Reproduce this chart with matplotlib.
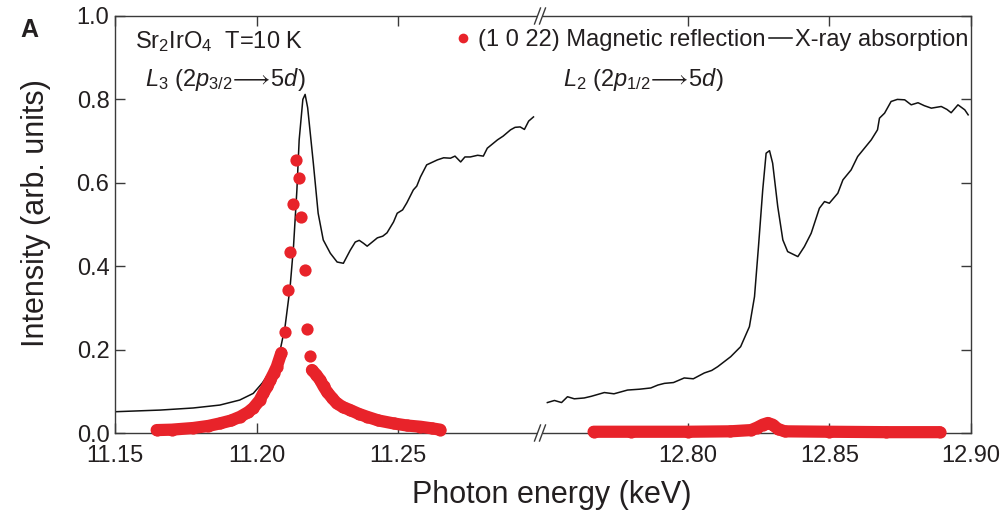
import matplotlib
matplotlib.use('Agg')
import matplotlib.pyplot as plt
from matplotlib.lines import Line2D
from matplotlib.patches import Polygon

plt.rcParams['font.family'] = ['Liberation Sans', 'DejaVu Sans']
plt.rcParams['mathtext.fontset'] = 'custom'
plt.rcParams['mathtext.rm'] = 'Liberation Sans'
plt.rcParams['mathtext.it'] = 'Liberation Sans:italic'
plt.rcParams['mathtext.bf'] = 'Liberation Sans:bold'

# X-ray absorption, Ir L3 edge
l3_abs_e = [11.150, 11.166, 11.1776, 11.187, 11.194, 11.1988, 11.202, 11.2058, 11.2083,
            11.210, 11.2118, 11.213, 11.2142, 11.215, 11.2163, 11.2171, 11.218, 11.220,
            11.2217, 11.2235, 11.226, 11.2284, 11.2306, 11.233, 11.2348, 11.2362, 11.2377,
            11.239, 11.2426, 11.2445, 11.246, 11.2483, 11.2496, 11.2515, 11.253, 11.2553,
            11.2565, 11.2578, 11.260, 11.2638, 11.2660, 11.2684, 11.2700, 11.272, 11.2735,
            11.2754, 11.2780, 11.280, 11.2814, 11.285, 11.2870, 11.2896, 11.2912, 11.293,
            11.2945, 11.2960, 11.2977]
l3_abs_i = [0.051, 0.055, 0.060, 0.067, 0.079, 0.095, 0.120, 0.158, 0.199,
            0.254, 0.350, 0.447, 0.583, 0.703, 0.800, 0.812, 0.780, 0.647,
            0.527, 0.463, 0.431, 0.410, 0.407, 0.438, 0.458, 0.462, 0.455,
            0.448, 0.468, 0.472, 0.480, 0.506, 0.527, 0.535, 0.552, 0.583,
            0.592, 0.614, 0.643, 0.655, 0.660, 0.659, 0.664, 0.650, 0.662,
            0.662, 0.666, 0.664, 0.683, 0.703, 0.712, 0.727, 0.733, 0.734,
            0.728, 0.748, 0.758]

# X-ray absorption, Ir L2 edge
l2_abs_e = [12.7505, 12.7530, 12.7555, 12.7576, 12.7600, 12.7635, 12.7660, 12.7706, 12.7740,
            12.7788, 12.7830, 12.787, 12.7895, 12.7918, 12.7950, 12.7988, 12.8020, 12.8059,
            12.8085, 12.8106, 12.8152, 12.8187, 12.8218, 12.8236, 12.825, 12.8265, 12.8277,
            12.8289, 12.830, 12.8318, 12.8336, 12.8353, 12.8389, 12.8412, 12.8436, 12.8465,
            12.8483, 12.850, 12.853, 12.8548, 12.8577, 12.860, 12.8624, 12.8648, 12.867,
            12.8677, 12.8695, 12.8718, 12.8740, 12.8766, 12.8789, 12.8813, 12.8835, 12.886,
            12.8895, 12.8915, 12.893, 12.8954, 12.8978, 12.899]
l2_abs_i = [0.073, 0.078, 0.073, 0.087, 0.082, 0.084, 0.088, 0.097, 0.094,
            0.103, 0.105, 0.108, 0.115, 0.119, 0.121, 0.132, 0.130, 0.144,
            0.150, 0.159, 0.183, 0.207, 0.255, 0.327, 0.447, 0.583, 0.671,
            0.677, 0.647, 0.543, 0.463, 0.435, 0.423, 0.447, 0.479, 0.539,
            0.555, 0.551, 0.575, 0.607, 0.631, 0.663, 0.683, 0.703, 0.727,
            0.755, 0.767, 0.795, 0.800, 0.799, 0.787, 0.792, 0.785, 0.779,
            0.783, 0.776, 0.768, 0.787, 0.775, 0.763]

# (1 0 22) magnetic reflection, L3 edge: low-energy tail, peak points, high-energy tail
l3_mag_lo_e = [11.1647, 11.1700, 11.1776, 11.1830, 11.1870, 11.1910, 11.1942, 11.1970,
               11.1988, 11.2010, 11.2024, 11.2038, 11.2048, 11.2060, 11.2071, 11.2087]
l3_mag_lo_i = [0.007, 0.008, 0.012, 0.017, 0.023, 0.030, 0.039, 0.050,
               0.060, 0.078, 0.096, 0.112, 0.127, 0.143, 0.159, 0.192]
l3_mag_pk_e = [11.2101, 11.2109, 11.2118, 11.2128, 11.2138, 11.2149, 11.2157, 11.2169,
               11.2177, 11.2187]
l3_mag_pk_i = [0.242, 0.342, 0.435, 0.549, 0.655, 0.612, 0.518, 0.391, 0.250, 0.184]
l3_mag_hi_e = [11.2195, 11.2210, 11.2224, 11.2236, 11.2248, 11.2265, 11.2283, 11.2305,
               11.2330, 11.2360, 11.2389, 11.2430, 11.2483, 11.2530, 11.2578, 11.2620,
               11.2648]
l3_mag_hi_i = [0.151, 0.140, 0.127, 0.112, 0.099, 0.085, 0.071, 0.062,
               0.055, 0.046, 0.039, 0.030, 0.023, 0.018, 0.015, 0.011, 0.008]

# (1 0 22) magnetic reflection, L2 edge
l2_mag_e = [12.7668, 12.7800, 12.8000, 12.8150, 12.8224, 12.8245, 12.8265, 12.8283,
            12.8300, 12.8318, 12.8342, 12.8500, 12.8700, 12.8889]
l2_mag_i = [0.003, 0.003, 0.003, 0.004, 0.007, 0.013, 0.020, 0.024,
            0.020, 0.010, 0.004, 0.003, 0.002, 0.002]

xticks_l3 = [11.15, 11.20, 11.25]
xticks_l2 = [12.80, 12.85, 12.90]
yticks = [0.0, 0.2, 0.4, 0.6, 0.8, 1.0]

red = '#e8232a'
ink = '#231f20'
spine_c = '#3a3a3a'
W, H = 1004, 518

fig = plt.figure(figsize=(W / 100, H / 100), dpi=100)
left, right, bottom, top, split = 115 / W, 971 / W, 1 - 433 / H, 1 - 16 / H, 540 / W
ax1 = fig.add_axes([left, bottom, split - left, top - bottom])
ax2 = fig.add_axes([split, bottom, right - split, top - bottom])

ax1.set_xlim(11.15, 11.30)
ax2.set_xlim(12.7479, 12.90)
for ax in (ax1, ax2):
    ax.set_ylim(0, 1.0)
    for s in ax.spines.values():
        s.set_color(spine_c)
        s.set_linewidth(1.0)
    ax.tick_params(direction='in', length=7, width=1.0, color=spine_c,
                   labelsize=17, labelcolor=ink, pad=4)
    ax.tick_params(axis='x', pad=9)
ax1.spines['right'].set_visible(False)
ax2.spines['left'].set_visible(False)

ax1.set_xticks(xticks_l3, [f'{t:.2f}' for t in xticks_l3])
ax2.set_xticks(xticks_l2, [f'{t:.2f}' for t in xticks_l2])
ax1.set_yticks(yticks, [f'{t:.1f}' for t in yticks])
ax2.set_yticks(yticks)
ax1.tick_params(top=True, right=False)
ax2.tick_params(top=True, left=False, right=True, labelleft=False)

# absorption curves
for ax, e, i in ((ax1, l3_abs_e, l3_abs_i), (ax2, l2_abs_e, l2_abs_i)):
    ax.plot(e, i, color='#111111', lw=1.1, zorder=2)

# magnetic reflection: dense tails drawn as overlapping dots
ms = 8.8
for ax, e, i in ((ax1, l3_mag_lo_e, l3_mag_lo_i), (ax1, l3_mag_hi_e, l3_mag_hi_i),
                 (ax2, l2_mag_e, l2_mag_i)):
    ax.plot(e, i, color=red, lw=ms, solid_capstyle='round', solid_joinstyle='round',
            marker='o', ms=ms, mec='none', clip_on=False, zorder=3)
ax1.plot(l3_mag_pk_e, l3_mag_pk_i, 'o', color=red, ms=ms, mec='none', zorder=3)

# axis-break marks on the top and bottom spines
def break_mark(xp, yp):
    gap = Polygon([((xp - 4) / W, (yp + 8) / H), ((xp + 1) / W, (yp + 8) / H),
                   ((xp + 4) / W, (yp - 8) / H), ((xp - 1) / W, (yp - 8) / H)],
                  closed=True, transform=fig.transFigure, fc='white', ec='none', zorder=5)
    fig.add_artist(gap)
    for dx in (-2.5, 2.5):
        fig.add_artist(Line2D([(xp + dx - 3) / W, (xp + dx + 3) / W],
                              [(yp - 8) / H, (yp + 8) / H], transform=fig.transFigure,
                              color=spine_c, lw=1.0, zorder=6))

break_mark(540, H - 433)
break_mark(540, H - 16)

fig.text(20 / W, 1 - 30 / H, 'A', fontsize=18, fontweight='bold', color=ink, va='center')
fig.text(36 / W, 1 - 213 / H, 'Intensity (arb. units)', rotation=90, fontsize=22,
         color=ink, ha='center', va='center')
fig.text(552 / W, 1 - 495 / H, 'Photon energy (keV)', fontsize=22, color=ink,
         ha='center', va='center')

fig.text(135 / W, 1 - 48 / H, r'Sr$_2$IrO$_4$  T=10 K', fontsize=17, color=ink, va='baseline')
fig.text(145 / W, 1 - 86 / H, r'$L_3$ (2$p_{3/2}\!\longrightarrow\!$5$d$)', fontsize=17,
         color=ink, va='baseline')
fig.text(563 / W, 1 - 86 / H, r'$L_2$ (2$p_{1/2}\!\longrightarrow\!$5$d$)', fontsize=17,
         color=ink, va='baseline')

handles = [Line2D([], [], ls='none', marker='o', color=red, ms=7, mec='none'),
           Line2D([], [], color='#111111', lw=1.1)]
fig.legend(handles, ['(1 0 22) Magnetic reflection', 'X-ray absorption'],
           loc='center right', bbox_to_anchor=(968 / W, 1 - 40 / H), ncol=2,
           frameon=False, fontsize=17, handlelength=1.0, handletextpad=0.1,
           columnspacing=0.15, borderpad=0, borderaxespad=0, labelcolor=ink)

fig.savefig('out.png', dpi=100)
